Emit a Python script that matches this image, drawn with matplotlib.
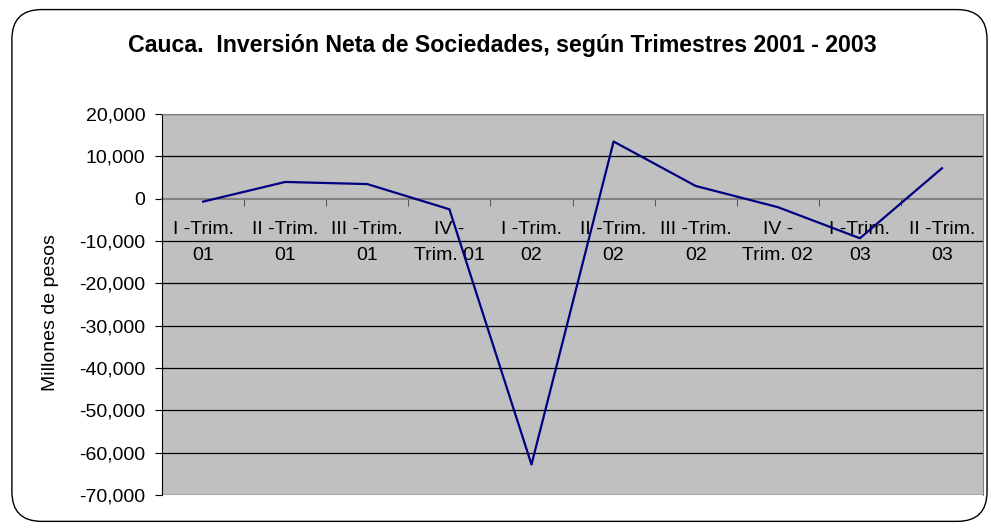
import numpy as np
import matplotlib.pyplot as plt
from matplotlib.patches import FancyBboxPatch

plt.rcParams['font.family'] = ['Liberation Sans', 'DejaVu Sans']

# Trimestres and net investment (millones de pesos)
categories = ['I -Trim.\n01', 'II -Trim.\n01', 'III -Trim.\n01', 'IV -\nTrim. 01',
              'I -Trim.\n02', 'II -Trim.\n02', 'III -Trim.\n02', 'IV -\nTrim. 02',
              'I -Trim.\n03', 'II -Trim.\n03']
values = [-700, 3950, 3450, -2500, -62800, 13500, 3000, -2000, -9350, 7200]
y_ticks = [20000, 10000, 0, -10000, -20000, -30000, -40000, -50000, -60000, -70000]

fig = plt.figure(figsize=(9.91, 5.32), dpi=100, facecolor='white')

# rounded border around the chart
border = FancyBboxPatch((0.012, 0.02), 0.984, 0.962,
                        boxstyle='round,pad=0,rounding_size=0.03',
                        transform=fig.transFigure, facecolor='none',
                        edgecolor='black', linewidth=1.0, zorder=-1,
                        mutation_aspect=991/532)
fig.patches.append(border)

ax = fig.add_axes([0.1635, 0.0695, 0.8285, 0.7162])
ax.set_facecolor('#C0C0C0')

x = np.arange(len(values))
ax.plot(x, values, color='#000080', linewidth=1.6, zorder=3)

ax.set_xlim(-0.5, len(values) - 0.5)
ax.set_ylim(-70000, 20000)
ax.set_yticks(y_ticks)
ax.set_yticklabels([f'{v:,}' for v in y_ticks], fontsize=14)
for v in y_ticks:
    if v != 0:
        ax.axhline(v, color='black', linewidth=0.9, zorder=1)

# category axis crosses at zero
ax.spines['bottom'].set_position(('data', 0))
ax.spines['bottom'].set_color('#808080')
ax.spines['bottom'].set_linewidth(1.5)
ax.spines['bottom'].set_zorder(2)
ax.spines['top'].set_color('#808080')
ax.spines['right'].set_color('#808080')
ax.spines['left'].set_color('black')

ax.set_xticks(x)
ax.set_xticklabels(categories, fontsize=14, linespacing=1.72)
ax.set_xticks(np.arange(len(values) + 1) - 0.5, minor=True)
ax.tick_params(axis='x', which='major', length=0, pad=16)
ax.tick_params(axis='x', which='minor', length=5, color='#404040', direction='out')
ax.tick_params(axis='y', length=5, direction='out', pad=7)

ax.set_ylabel('Millones de pesos', fontsize=14)
ax.yaxis.set_label_coords(-0.125, 0.48)
fig.text(0.507, 0.915, 'Cauca.  Inversión Neta de Sociedades, según Trimestres 2001 - 2003',
         ha='center', va='center', fontsize=16.7, fontweight='bold')

fig.savefig('out.png', dpi=100)
